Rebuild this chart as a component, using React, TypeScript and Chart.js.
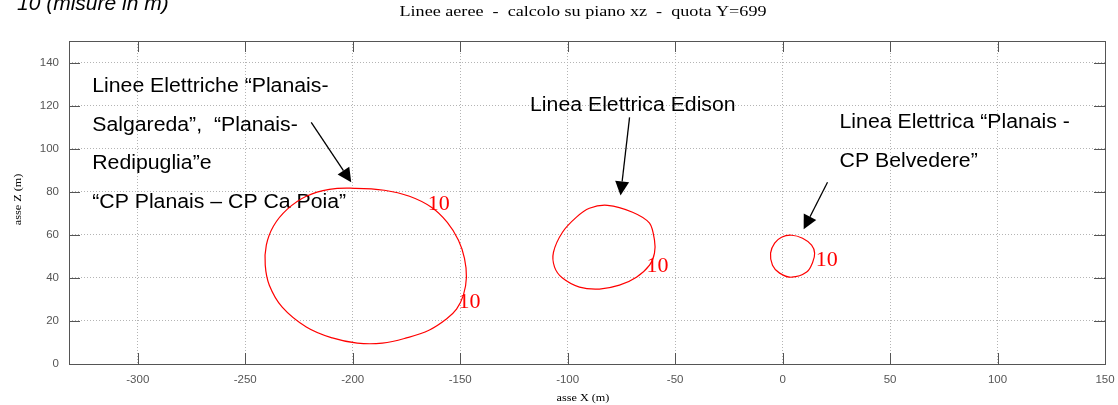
import React, { useEffect, useRef } from "react";
import { Chart, registerables } from "chart.js";

Chart.register(...registerables);

// ---------- text ----------
const headerCut = "10 (misure in m)";
const chartTitle = "Linee aeree  -  calcolo su piano xz  -  quota Y=699";
const xTitle = "asse X (m)";
const yTitle = "asse Z (m)";

// ---------- axes ----------
const xMin = -332;
const xMax = 150;
const yMin = 0;
const yMax = 150;
const xTicks = [-300, -250, -200, -150, -100, -50, 0, 50, 100, 150];
const yTicks = [0, 20, 40, 60, 80, 100, 120, 140];

// ---------- contour lines (level 10) ----------
const contourLevel = "10";
const bigX = [-199.3, -185.3, -173.6, -163.4, -156.0, -150.8, -148.0, -147.1, -148.5, -151.7, -156.4, -164.3, -175.0, -186.2, -197.9, -209.5, -221.6, -232.8, -238.8, -240.7, -240.2, -236.9, -230.4, -221.6, -210.9];
const bigZ = [81.6, 80.7, 77.9, 72.8, 65.8, 57.5, 49.1, 40.3, 32.0, 25.5, 20.9, 15.8, 12.1, 9.7, 9.7, 12.1, 17.2, 26.4, 36.6, 45.9, 55.2, 64.0, 71.9, 77.9, 81.1];
const midX = [-81.5, -69.8, -61.9, -59.6, -59.6, -61.9, -68.0, -75.9, -85.2, -94.5, -102.4, -106.1, -106.6, -102.4, -95.9, -89.9];
const midZ = [73.7, 70.5, 65.4, 57.5, 51.5, 45.9, 40.3, 36.6, 34.8, 35.7, 39.9, 45.0, 51.9, 61.2, 68.2, 72.3];
const smallX = [4.2, 9.3, 13.5, 14.9, 14.0, 11.2, 4.2, -1.4, -4.7, -5.6, -3.7, -0.5];
const smallZ = [59.8, 58.4, 55.2, 51.5, 47.3, 42.7, 40.3, 42.2, 45.9, 51.5, 56.1, 58.9];

// contour level labels
const levelLabelX = [-160.0, -145.7, -58.2, 20.5];
const levelLabelZ = [75.1, 29.7, 46.4, 49.1];

// ---------- annotations ----------
const noteLines = [
  "Linee Elettriche \u201CPlanais-",
  "Salgareda\u201D,  \u201CPlanais-",
  "Redipuglia\u201De",
  "\u201CCP Planais \u2013 CP Ca Poia\u201D",
  "Linea Elettrica Edison",
  "Linea Elettrica \u201CPlanais -",
  "CP Belvedere\u201D",
];
const noteX = [-321.2, -321.2, -321.2, -321.2, -117.5, 26.5, 26.5];
const noteZ = [126.1, 108.0, 90.4, 72.3, 117.3, 109.4, 91.3];

const arrowFromX = [-219.3, -71.2, 20.9];
const arrowFromZ = [112.2, 114.5, 84.4];
const arrowToX = [-200.7, -75.4, 9.8];
const arrowToZ = [84.4, 78.3, 62.6];

// build a closed loop with wrap-around neighbours (first/last segments hidden)
function loop(xs: number[], zs: number[]) {
  const n = xs.length;
  const pts = xs.map((x, i) => ({ x, y: zs[i] }));
  return [pts[n - 1], ...pts, pts[0], pts[1]];
}

function drawText(
  ctx: CanvasRenderingContext2D,
  text: string,
  x: number,
  y: number,
  font: string,
  color: string,
  align: CanvasTextAlign,
  sx = 1,
  rot = 0
) {
  ctx.save();
  ctx.translate(x, y);
  if (rot) ctx.rotate(rot);
  ctx.scale(sx, 1);
  ctx.font = font;
  ctx.fillStyle = color;
  ctx.textAlign = align;
  ctx.textBaseline = "alphabetic";
  ctx.fillText(text, 0, 0);
  ctx.restore();
}

const framePlugin = {
  id: "gnuplotFrame",
  beforeDatasetsDraw(chart: any) {
    const { ctx, chartArea, scales } = chart;
    const { left, right, top, bottom } = chartArea;
    ctx.save();
    ctx.strokeStyle = "#555";
    ctx.lineWidth = 1;
    ctx.beginPath();
    for (const v of xTicks) {
      const px = Math.round(scales.x.getPixelForValue(v)) + 0.5;
      ctx.moveTo(px, bottom);
      ctx.lineTo(px, bottom - 11);
      ctx.moveTo(px, top);
      ctx.lineTo(px, top + 11);
    }
    for (const v of yTicks) {
      const py = Math.round(scales.y.getPixelForValue(v)) + 0.5;
      ctx.moveTo(left, py);
      ctx.lineTo(left + 11, py);
      ctx.moveTo(right, py);
      ctx.lineTo(right - 11, py);
    }
    ctx.stroke();
    ctx.strokeRect(Math.round(left) + 0.5, Math.round(top) + 0.5, Math.round(right - left), Math.round(bottom - top));
    ctx.restore();

    // annotations text
    for (let i = 0; i < noteLines.length; i++) {
      const px = scales.x.getPixelForValue(noteX[i]);
      const py = scales.y.getPixelForValue(noteZ[i]);
      drawText(ctx, noteLines[i], px, py, "19.5px 'Liberation Sans', Arial, sans-serif", "#000", "left", 1.09);
    }
    // arrows
    ctx.save();
    ctx.strokeStyle = "#000";
    ctx.fillStyle = "#000";
    ctx.lineWidth = 1.3;
    for (let i = 0; i < arrowFromX.length; i++) {
      const x0 = scales.x.getPixelForValue(arrowFromX[i]);
      const y0 = scales.y.getPixelForValue(arrowFromZ[i]);
      const x1 = scales.x.getPixelForValue(arrowToX[i]);
      const y1 = scales.y.getPixelForValue(arrowToZ[i]);
      const ang = Math.atan2(y1 - y0, x1 - x0);
      const len = 14;
      const hw = 7;
      const bx = x1 - len * Math.cos(ang);
      const by = y1 - len * Math.sin(ang);
      ctx.beginPath();
      ctx.moveTo(x0, y0);
      ctx.lineTo(bx, by);
      ctx.stroke();
      ctx.beginPath();
      ctx.moveTo(x1, y1);
      ctx.lineTo(bx + hw * Math.sin(ang), by - hw * Math.cos(ang));
      ctx.lineTo(bx - hw * Math.sin(ang), by + hw * Math.cos(ang));
      ctx.closePath();
      ctx.fill();
    }
    ctx.restore();
  },
  afterDatasetsDraw(chart: any) {
    const { ctx, scales } = chart;
    for (let i = 0; i < levelLabelX.length; i++) {
      const px = scales.x.getPixelForValue(levelLabelX[i]);
      const py = scales.y.getPixelForValue(levelLabelZ[i]);
      drawText(ctx, contourLevel, px, py + 7.5, "22px 'Liberation Serif', 'Times New Roman', serif", "#ff0000", "center");
    }
  },
  afterDraw(chart: any) {
    const { ctx, chartArea } = chart;
    const cx = (chartArea.left + chartArea.right) / 2 - 4;
    drawText(ctx, headerCut, 17, 10, "italic 21px 'Liberation Sans', Arial, sans-serif", "#000", "left");
    drawText(ctx, chartTitle, cx, 16, "14.5px 'Liberation Serif', 'Times New Roman', serif", "#000", "center", 1.25);
    drawText(ctx, xTitle, cx, 401, "10px 'Liberation Serif', 'Times New Roman', serif", "#000", "center", 1.22);
    drawText(ctx, yTitle, 21, (chartArea.top + chartArea.bottom) / 2 - 3, "10px 'Liberation Serif', 'Times New Roman', serif", "#000", "center", 1.22, -Math.PI / 2);
  },
};

export default function App() {
  const ref = useRef<HTMLCanvasElement | null>(null);

  useEffect(() => {
    if (!ref.current) return;
    const red = "#ff0000";
    const mk = (xs: number[], zs: number[], tension: number) => {
      const data = loop(xs, zs);
      const last = data.length - 1;
      return {
        data,
        showLine: true,
        borderColor: red,
        borderWidth: 1.2,
        pointRadius: 0,
        tension,
        segment: {
          borderColor: (c: any) => (c.p0DataIndex === 0 || c.p1DataIndex === last ? "rgba(0,0,0,0)" : red),
        },
      };
    };
    const chart = new Chart(ref.current, {
      type: "scatter",
      data: {
        datasets: [mk(bigX, bigZ, 0.4), mk(midX, midZ, 0.3), mk(smallX, smallZ, 0.4)] as any,
      },
      options: {
        responsive: false,
        animation: false,
        layout: { padding: { top: 41, right: 13, left: 0, bottom: 0 } },
        plugins: { legend: { display: false }, tooltip: { enabled: false }, title: { display: false } },
        scales: {
          x: {
            type: "linear",
            min: xMin,
            max: xMax,
            afterBuildTicks: (s: any) => {
              s.ticks = xTicks.map((v) => ({ value: v }));
            },
            afterFit: (s: any) => {
              s.height = 41;
              s.paddingLeft = 0;
              s.paddingRight = 0;
            },
            ticks: {
              padding: 9,
              maxRotation: 0,
              autoSkip: false,
              color: "#555",
              font: { family: "'Liberation Sans', Arial, sans-serif", size: 11.5 },
            },
            grid: { color: "#b4b4b4", lineWidth: 1, drawTicks: false },
            border: { display: false, dash: [1, 2] },
          },
          y: {
            type: "linear",
            min: yMin,
            max: yMax,
            afterBuildTicks: (s: any) => {
              s.ticks = yTicks.map((v) => ({ value: v }));
            },
            afterFit: (s: any) => {
              s.width = 69;
              s.paddingTop = 0;
              s.paddingBottom = 0;
            },
            ticks: {
              padding: 10,
              autoSkip: false,
              color: "#555",
              font: { family: "'Liberation Sans', Arial, sans-serif", size: 11.5 },
            },
            grid: { color: "#b4b4b4", lineWidth: 1, drawTicks: false },
            border: { display: false, dash: [1, 2] },
          },
        },
      },
      plugins: [framePlugin],
    });
    return () => chart.destroy();
  }, []);

  return (
    <div style={{ position: "fixed", left: 0, top: 0, width: 1118, height: 405, background: "#fff" }}>
      <canvas ref={ref} width={1118} height={405} style={{ display: "block" }} />
    </div>
  );
}
